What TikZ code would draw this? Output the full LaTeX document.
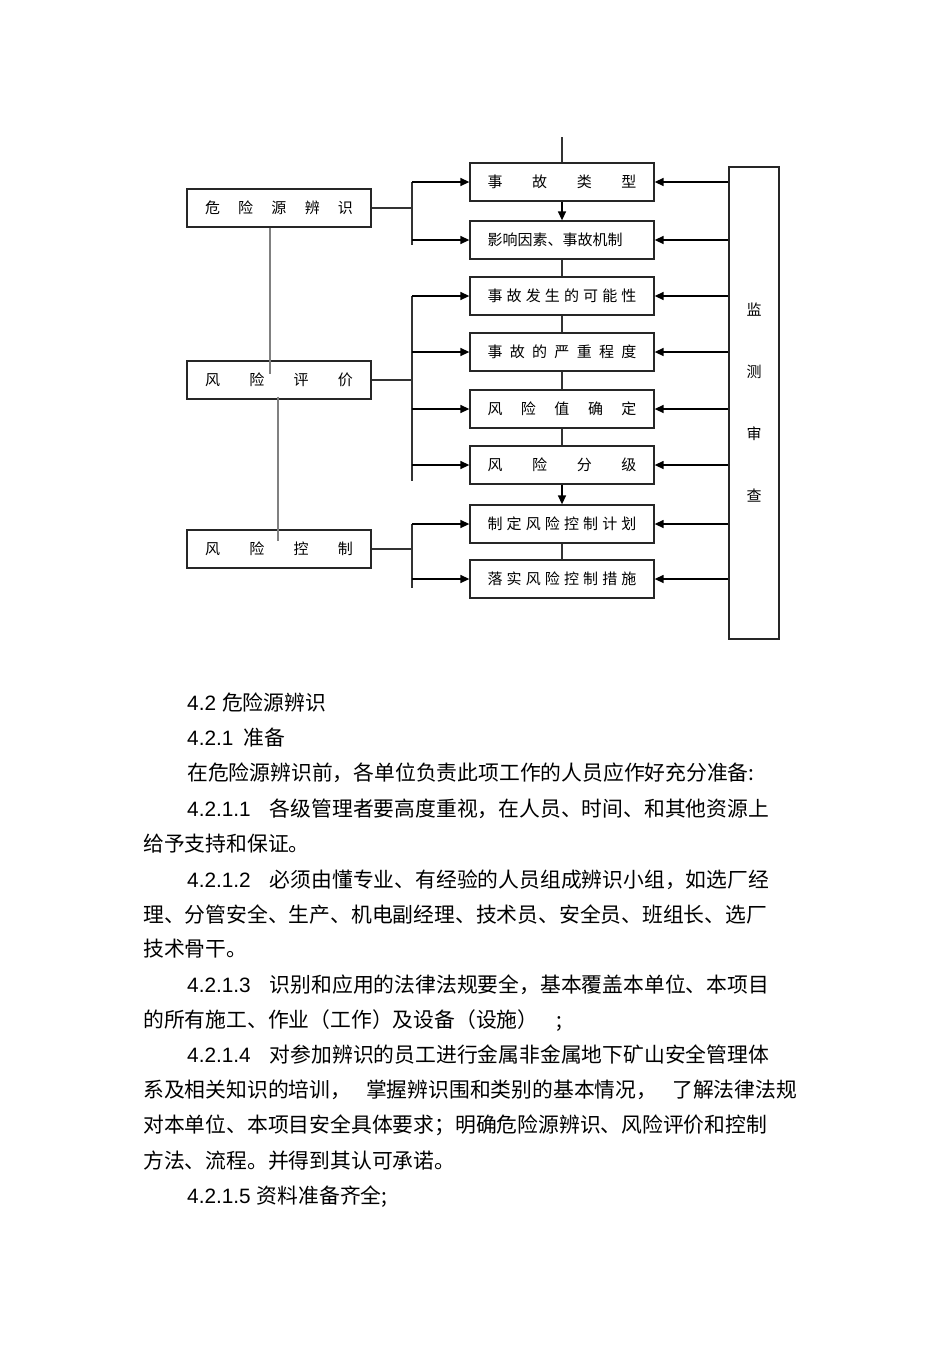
\documentclass[tikz,border=0pt]{standalone}
\usepackage{fontspec}
\setmainfont{Noto Sans CJK SC}
\newfontfamily\latin{Liberation Sans}
\usetikzlibrary{arrows.meta,calc}

\tikzset{
  stage/.style={draw=black!85, line width=1.3pt, minimum width=184pt, minimum height=38pt, inner sep=0pt, font=\fontsize{15}{16}\selectfont},
  link/.style={draw=black!80, line width=1.2pt},
  feed/.style={draw=black, line width=1.4pt, -{Triangle[length=9pt,width=8pt]}},
  para/.style={anchor=base west, inner sep=0pt, font=\fontsize{20.8}{24}\selectfont},
}

\begin{document}
\begin{tikzpicture}[x=1pt,y=-1pt]
    \useasboundingbox (0,0) rectangle (950,1345);

    % Left column:
    \node[stage] (hazard) at (279,208) {\makebox[148pt]{危\hfill 险\hfill 源\hfill 辨\hfill 识}};
    \node[stage] (assess) at (279,380) {\makebox[148pt]{风\hfill 险\hfill 评\hfill 价}};
    \node[stage] (control) at (279,549) {\makebox[148pt]{风\hfill 险\hfill 控\hfill 制}};

    % Right column:
    \node[stage] (type) at (562,182) {\makebox[149pt]{事\hfill 故\hfill 类\hfill 型}};
    \node[stage] (cause) at (562,240) {\makebox[149pt][l]{影响因素、事故机制}};
    \node[stage] (chance) at (562,296) {\makebox[149pt]{事\hfill 故\hfill 发\hfill 生\hfill 的\hfill 可\hfill 能\hfill 性}};
    \node[stage] (severity) at (562,352) {\makebox[149pt]{事\hfill 故\hfill 的\hfill 严\hfill 重\hfill 程\hfill 度}};
    \node[stage] (value) at (562,409) {\makebox[149pt]{风\hfill 险\hfill 值\hfill 确\hfill 定}};
    \node[stage] (grade) at (562,465) {\makebox[149pt]{风\hfill 险\hfill 分\hfill 级}};
    \node[stage] (plan) at (562,524) {\makebox[149pt]{制\hfill 定\hfill 风\hfill 险\hfill 控\hfill 制\hfill 计\hfill 划}};
    \node[stage] (measure) at (562,579) {\makebox[149pt]{落\hfill 实\hfill 风\hfill 险\hfill 控\hfill 制\hfill 措\hfill 施}};

    % Monitoring column:
    \node[draw=black!85, line width=1.3pt, minimum width=50pt, minimum height=472pt, inner sep=0pt, align=center,
          font=\fontsize{15}{62}\selectfont] (audit) at (754,403) {监\\测\\审\\查};

    % Chain of the right column:
    \coordinate (entry) at (562,137);
    \coordinate (bus) at (412,0);
    \draw[link] (entry) -- (type);
    \draw[feed] (type) -- (cause);
    \draw[link] (cause) -- (chance);
    \draw[link] (chance) -- (severity);
    \draw[link] (severity) -- (value);
    \draw[link] (value) -- (grade);
    \draw[feed] (grade) -- (plan);
    \draw[link] (plan) -- (measure);

    % Links between left boxes:
    \draw[link, draw=gray] ($(hazard.south)+(-9,0)$) -- ($(assess.north)+(-9,14)$);
    \draw[link, draw=gray] ($(assess.south)+(-1,-3)$) -- ($(control.north)+(-1,12)$);

    % Hazard branch:
    \draw[link] (hazard.east) -- (hazard.east -| bus);
    \draw[link] (bus |- type) -- ($(bus |- cause)+(0,5)$);
    \draw[feed] (bus |- type) -- (type.west);
    \draw[feed] (bus |- cause) -- (cause.west);

    % Assessment branch:
    \draw[link] (assess.east) -- (assess.east -| bus);
    \draw[link] (bus |- chance) -- ($(bus |- grade)+(0,16)$);
    \draw[feed] (bus |- chance) -- (chance.west);
    \draw[feed] (bus |- severity) -- (severity.west);
    \draw[feed] (bus |- value) -- (value.west);
    \draw[feed] (bus |- grade) -- (grade.west);

    % Control branch:
    \draw[link] (control.east) -- (control.east -| bus);
    \draw[link] (bus |- plan) -- ($(bus |- measure)+(0,9)$);
    \draw[feed] (bus |- plan) -- (plan.west);
    \draw[feed] (bus |- measure) -- (measure.west);

    % Monitoring arrows:
    \draw[feed] (audit.west |- type) -- (type.east);
    \draw[feed] (audit.west |- cause) -- (cause.east);
    \draw[feed] (audit.west |- chance) -- (chance.east);
    \draw[feed] (audit.west |- severity) -- (severity.east);
    \draw[feed] (audit.west |- value) -- (value.east);
    \draw[feed] (audit.west |- grade) -- (grade.east);
    \draw[feed] (audit.west |- plan) -- (plan.east);
    \draw[feed] (audit.west |- measure) -- (measure.east);

    % Text below:
    \node[para] (t1) at (187,710) {{\latin 4.2}\hspace{6pt}危险源辨识};
    \node[para] (t2) at (187,745) {{\latin 4.2.1}\hspace{10pt}准备};
    \node[para] (t3) at (187,780) {在危险源辨识前，各单位负责此项工作的人员应作好充分准备:};
    \node[para] (t4) at (187,816) {{\latin 4.2.1.1}\hspace{19pt}各级管理者要高度重视，在人员、时间、和其他资源上};
    \node[para] (t5) at (143,851) {给予支持和保证。};
    \node[para] (t6) at (187,887) {{\latin 4.2.1.2}\hspace{19pt}必须由懂专业、有经验的人员组成辨识小组，如选厂经};
    \node[para] (t7) at (143,922) {理、分管安全、生产、机电副经理、技术员、安全员、班组长、选厂};
    \node[para] (t8) at (143,956) {技术骨干。};
    \node[para] (t9) at (187,992) {{\latin 4.2.1.3}\hspace{19pt}识别和应用的法律法规要全，基本覆盖本单位、本项目};
    \node[para] (t10) at (143,1027) {的所有施工、作业（工作）及设备（设施）\hspace{18pt};};
    \node[para] (t11) at (187,1062) {{\latin 4.2.1.4}\hspace{19pt}对参加辨识的员工进行金属非金属地下矿山安全管理体};
    \node[para] (t12) at (143,1097) {系及相关知识的培训，\hspace{15pt}掌握辨识围和类别的基本情况，\hspace{15pt}了解法律法规};
    \node[para] (t13) at (143,1132) {对本单位、本项目安全具体要求；明确危险源辨识、风险评价和控制};
    \node[para] (t14) at (143,1168) {方法、流程。并得到其认可承诺。};
    \node[para] (t15) at (187,1203) {{\latin 4.2.1.5}\hspace{6pt}资料准备齐全;};
\end{tikzpicture}
\end{document}
